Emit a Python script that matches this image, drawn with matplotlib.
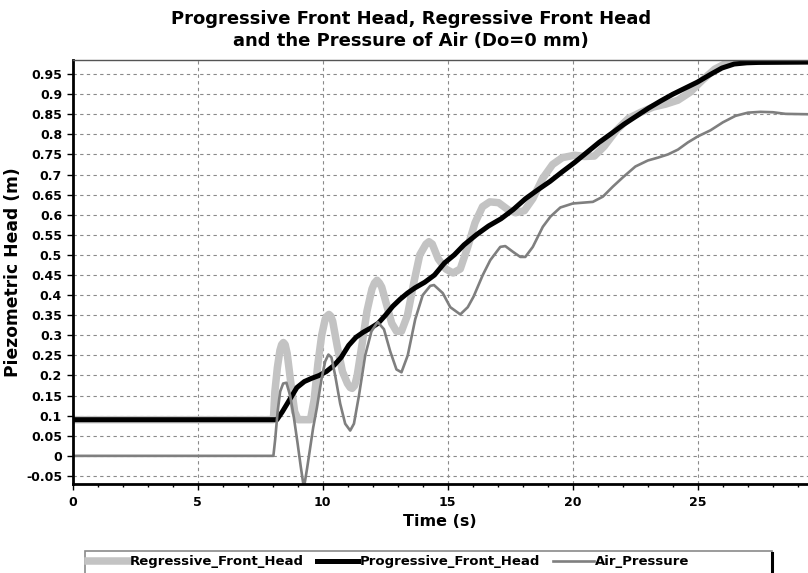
import matplotlib

matplotlib.use("Agg")
import matplotlib.pyplot as plt
import numpy as np
from matplotlib.lines import Line2D
from matplotlib.patches import Rectangle
from matplotlib.ticker import MultipleLocator

plt.rcParams["font.family"] = ["DejaVu Sans"]
plt.rcParams["font.weight"] = "bold"

# time (s) / head (m)
reg_t = [0, 8.03, 8.09, 8.19, 8.29, 8.36, 8.43, 8.5, 8.58, 8.73, 8.88, 9.02, 9.51, 9.66, 9.81,
         9.96, 10.1, 10.18, 10.25, 10.32, 10.4, 10.59, 10.79, 10.99, 11.1, 11.18, 11.28, 11.38,
         11.58, 11.77, 11.97, 12.07, 12.17, 12.27, 12.36, 12.56, 12.76, 12.95, 13.15, 13.39,
         13.64, 13.88, 14.13, 14.25, 14.38, 14.62, 14.92, 15.21, 15.5, 15.8, 16.09, 16.39,
         16.68, 17.03, 17.42, 17.71, 18.06, 18.4, 18.79, 19.19, 19.58, 20.07, 20.46, 20.86,
         21.25, 21.74, 22.23, 22.72, 23.21, 23.7, 24.2, 24.69, 25.18, 25.67, 26.16, 26.75, 29.4]
reg_h = [0.09, 0.09, 0.16, 0.22, 0.262, 0.277, 0.282, 0.277, 0.255, 0.18, 0.11, 0.09, 0.09,
         0.14, 0.23, 0.30, 0.34, 0.348, 0.352, 0.348, 0.335, 0.27, 0.21, 0.18, 0.17, 0.168,
         0.175, 0.20, 0.28, 0.36, 0.415, 0.43, 0.437, 0.43, 0.42, 0.375, 0.33, 0.31, 0.31,
         0.35, 0.43, 0.50, 0.527, 0.533, 0.527, 0.49, 0.465, 0.455, 0.465, 0.52, 0.58, 0.62,
         0.632, 0.63, 0.612, 0.605, 0.61, 0.64, 0.69, 0.725, 0.742, 0.748, 0.745, 0.746, 0.77,
         0.81, 0.84, 0.855, 0.868, 0.875, 0.885, 0.905, 0.935, 0.962, 0.978, 0.982, 0.982]

prog_t = [0, 8.17, 8.39, 8.68, 8.97, 9.27, 9.56, 9.86, 10.15, 10.45, 10.74, 11.04, 11.33,
          11.63, 11.92, 12.22, 12.51, 12.8, 13.1, 13.39, 13.69, 14.08, 14.47, 14.87, 15.26,
          15.65, 16.14, 16.63, 17.13, 17.62, 18.11, 18.6, 19.09, 19.58, 20.07, 20.56, 21.05,
          21.54, 22.04, 22.53, 23.02, 23.51, 24.0, 24.49, 24.98, 25.47, 25.96, 26.45, 26.95,
          27.44, 29.4]
prog_h = [0.09, 0.09, 0.11, 0.14, 0.17, 0.185, 0.193, 0.2, 0.21, 0.225, 0.245, 0.275, 0.295,
          0.308, 0.318, 0.33, 0.35, 0.372, 0.39, 0.405, 0.418, 0.432, 0.45, 0.48, 0.5, 0.525,
          0.55, 0.572, 0.59, 0.613, 0.64, 0.662, 0.683, 0.707, 0.73, 0.755, 0.78, 0.802,
          0.825, 0.845, 0.865, 0.883, 0.9, 0.915, 0.93, 0.948, 0.965, 0.975, 0.978, 0.979,
          0.98]

air_t = [0, 8.03, 8.1, 8.2, 8.3, 8.42, 8.55, 8.7, 8.85, 9.0, 9.12, 9.25, 9.38, 9.5, 9.62,
         9.77, 9.95, 10.1, 10.23, 10.35, 10.5, 10.7, 10.9, 11.1, 11.25, 11.45, 11.7, 11.95,
         12.2, 12.45, 12.7, 12.95, 13.15, 13.4, 13.7, 14.0, 14.3, 14.45, 14.8, 15.1, 15.5,
         15.8, 16.03, 16.4, 16.7, 17.1, 17.3, 17.6, 17.9, 18.1, 18.4, 18.8, 19.1, 19.5, 20.0,
         20.4, 20.8, 21.2, 21.6, 22.0, 22.5, 23.0, 23.4, 23.8, 24.2, 24.6, 25.0, 25.5, 26.0,
         26.5, 27.0, 27.5, 28.0, 28.5, 29.4]
air_h = [0, 0, 0.04, 0.11, 0.16, 0.18, 0.182, 0.15, 0.095, 0.03, -0.025, -0.08, -0.03, 0.02,
         0.07, 0.12, 0.19, 0.235, 0.252, 0.245, 0.2, 0.13, 0.08, 0.063, 0.08, 0.15, 0.25, 0.31,
         0.333, 0.315, 0.26, 0.215, 0.208, 0.25, 0.34, 0.4, 0.423, 0.425, 0.405, 0.37, 0.352,
         0.37, 0.396, 0.45, 0.487, 0.52, 0.522, 0.508, 0.495, 0.495, 0.52, 0.57, 0.595, 0.618,
         0.628, 0.63, 0.632, 0.645, 0.67, 0.693, 0.72, 0.735, 0.742, 0.75, 0.762, 0.78, 0.795,
         0.81, 0.83, 0.846, 0.854, 0.856, 0.855, 0.851, 0.85]

x_ticks = [0, 5, 10, 15, 20, 25]
y_ticks = np.round(np.arange(-0.05, 0.951, 0.05), 2)

W, H = 808, 573
fig = plt.figure(figsize=(W / 100, H / 100), dpi=100)
ax = fig.add_axes([72.5 / W, 1 - 484 / H, 1 - 72.5 / W, (484 - 60) / H])

ax.plot(reg_t, reg_h, color="#c3c3c3", lw=5.4, solid_joinstyle="round",
        label="Regressive_Front_Head")
ax.plot(prog_t, prog_h, color="black", lw=3.6, solid_joinstyle="round",
        label="Progressive_Front_Head")
ax.plot(air_t, air_h, color="#7f7f7f", lw=1.9, solid_joinstyle="round", label="Air_Pressure")

ax.set_xlim(0, 29.4)
ax.set_ylim(-0.07, 0.985)
ax.set_xticks(x_ticks)
ax.set_yticks(y_ticks)
ax.set_yticklabels([f"{v:g}" for v in y_ticks])
ax.xaxis.set_minor_locator(MultipleLocator(1))
ax.tick_params(axis="both", which="major", labelsize=9, direction="out", length=4, width=1)
ax.tick_params(axis="x", which="minor", direction="out", length=2, width=1)
ax.tick_params(axis="x", pad=5)
for lab in ax.get_xticklabels() + ax.get_yticklabels():
    lab.set_fontweight("bold")

ax.grid(True, which="major", color="#8a8a8a", linestyle=(0, (3, 3)), linewidth=0.8)
ax.set_axisbelow(True)
for s in ("left", "bottom"):
    ax.spines[s].set_linewidth(2)
    ax.spines[s].set_color("black")
ax.spines["top"].set_linewidth(1)
ax.spines["top"].set_color("#555555")
ax.spines["right"].set_visible(False)

ax.set_xlabel("Time (s)", fontsize=11.5, fontweight="bold", labelpad=3)
ax.set_ylabel("Piezometric Head (m)", fontsize=12.3, fontweight="bold", labelpad=3)

fig.text(411 / W, 1 - 19 / H, "Progressive Front Head, Regressive Front Head",
         ha="center", va="center", fontsize=13, fontweight="bold")
fig.text(411 / W, 1 - 41 / H, "and the Pressure of Air (Do=0 mm)",
         ha="center", va="center", fontsize=13, fontweight="bold")

# legend box, cut by the bottom edge like the original
fig.patches.append(Rectangle((85 / W, -0.02), (772 - 85) / W, 0.02 + (573 - 551) / H,
                             transform=fig.transFigure, fill=False, edgecolor="#8a8a8a", lw=1.2))
fig.lines.append(Line2D([772 / W, 772 / W], [0, 1 - 553 / H], transform=fig.transFigure,
                        color="black", lw=2.2))
handles, labels = ax.get_legend_handles_labels()
fig.legend(handles, labels, ncol=3, loc="center left", bbox_to_anchor=(88 / W, 1 - 562 / H),
           frameon=False, prop={"size": 9.5, "weight": "bold"}, handlelength=3.1,
           handletextpad=0.1, columnspacing=1.0, borderpad=0, borderaxespad=0)

fig.savefig("out.png", dpi=100)
